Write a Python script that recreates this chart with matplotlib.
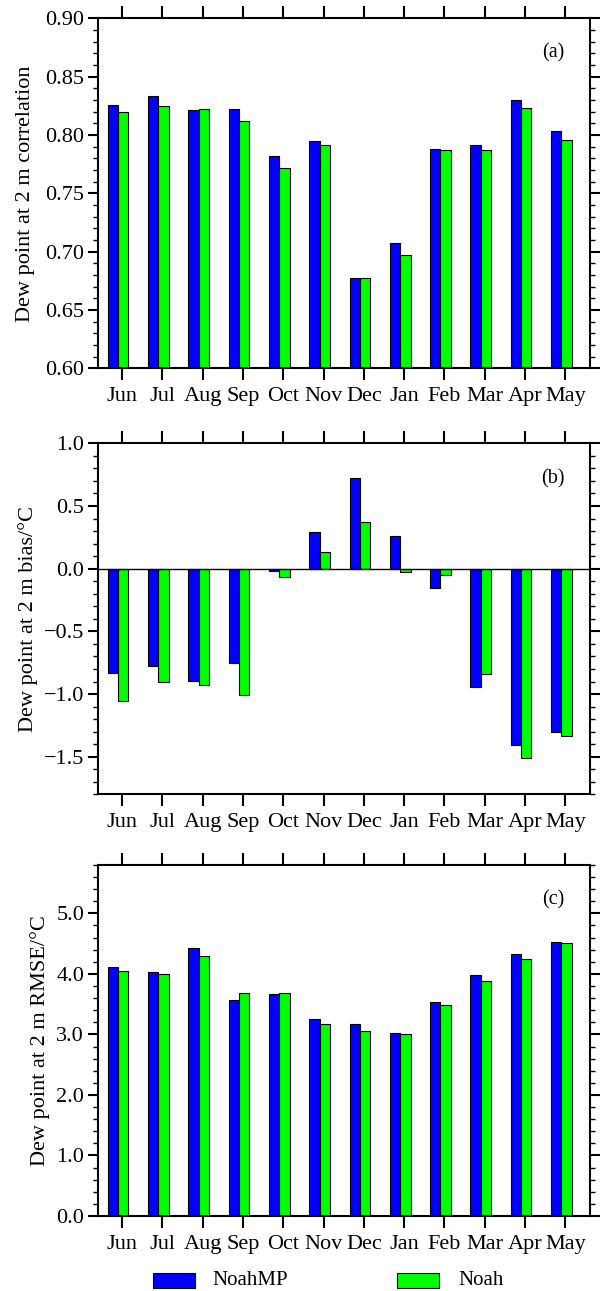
import numpy as np
import matplotlib.pyplot as plt
from matplotlib.patches import Rectangle
from matplotlib.ticker import MultipleLocator, FuncFormatter

months = ['Jun', 'Jul', 'Aug', 'Sep', 'Oct', 'Nov', 'Dec', 'Jan', 'Feb', 'Mar', 'Apr', 'May']

# (a) correlation
corr_noahmp = [0.826, 0.833, 0.821, 0.822, 0.782, 0.795, 0.677, 0.707, 0.788, 0.791, 0.830, 0.803]
corr_noah = [0.820, 0.825, 0.822, 0.812, 0.772, 0.791, 0.677, 0.697, 0.787, 0.787, 0.823, 0.796]

# (b) bias
bias_noahmp = [-0.835, -0.777, -0.896, -0.753, -0.021, 0.293, 0.721, 0.261, -0.154, -0.941, -1.404, -1.306]
bias_noah = [-1.059, -0.904, -0.931, -1.011, -0.066, 0.136, 0.375, -0.027, -0.050, -0.843, -1.513, -1.338]

# (c) RMSE
rmse_noahmp = [4.11, 4.03, 4.43, 3.57, 3.67, 3.25, 3.18, 3.02, 3.54, 3.98, 4.33, 4.53]
rmse_noah = [4.05, 4.00, 4.29, 3.68, 3.68, 3.17, 3.05, 3.00, 3.49, 3.89, 4.25, 4.51]

BLUE = '#0000ff'
GREEN = '#00ff00'
BAR_W = 0.256

plt.rcParams['font.family'] = ['Liberation Serif', 'DejaVu Serif']
plt.rcParams['font.size'] = 16


def tick_fmt(fmt):
    # proper minus sign on negative labels
    return FuncFormatter(lambda v, pos: (fmt % (0.0 if abs(v) < 1e-9 else v)).replace('-', '\u2212'))


def draw_panel(ax, mp, noah, ylim, major, minor, fmt, ylabel, label_x, tag, zero_line=False):
    x = np.arange(len(months))
    ax.bar(x - 0.355, mp, width=BAR_W, align='edge', color=BLUE, edgecolor='black', linewidth=0.8)
    ax.bar(x - 0.355 + BAR_W, noah, width=BAR_W, align='edge', color=GREEN, edgecolor='black', linewidth=0.8)
    if zero_line:
        ax.axhline(0, color='black', linewidth=1.0)
    ax.set_xlim(-0.59, 11.61)
    ax.set_ylim(*ylim)
    ax.set_xticks(x)
    ax.set_xticklabels(months)
    ax.yaxis.set_major_locator(MultipleLocator(major))
    ax.yaxis.set_minor_locator(MultipleLocator(minor))
    ax.yaxis.set_major_formatter(tick_fmt(fmt))
    ax.tick_params(axis='x', which='major', direction='out', length=8.6, width=1.5,
                   top=True, bottom=True, labeltop=False, pad=5)
    ax.tick_params(axis='y', which='major', direction='out', length=7.2, width=1.5,
                   left=True, right=True, labelright=False, pad=3)
    ax.tick_params(axis='y', which='minor', direction='out', length=3.6, width=1.0,
                   left=True, right=True)
    for s in ax.spines.values():
        s.set_linewidth(1.5)
    ax.set_ylabel(ylabel)
    ax.yaxis.set_label_coords(label_x, 0.5)
    ax.text(0.925, 0.90, tag, transform=ax.transAxes, ha='center', va='center', fontsize=14.5)


fig = plt.figure(figsize=(6.03, 12.91), dpi=100)
ax_a = fig.add_axes([0.163, 0.7147, 0.8154, 0.2711])
ax_b = fig.add_axes([0.163, 0.3847, 0.8154, 0.2719])
ax_c = fig.add_axes([0.163, 0.0581, 0.8154, 0.2719])

draw_panel(ax_a, corr_noahmp, corr_noah, (0.60, 0.90), 0.05, 0.01, '%.2f',
           'Dew point at 2 m correlation', -0.129, '(a)')
draw_panel(ax_b, bias_noahmp, bias_noah, (-1.8, 1.0), 0.5, 0.1, '%.1f',
           'Dew point at 2 m bias/\u00b0C', -0.123, '(b)', zero_line=True)
draw_panel(ax_c, rmse_noahmp, rmse_noah, (0.0, 5.8), 1.0, 0.2, '%.1f',
           'Dew point at 2 m RMSE/\u00b0C', -0.098, '(c)')

# legend boxes along the bottom
fig.patches.append(Rectangle((0.2537, 0.0023), 0.0697, 0.0116, transform=fig.transFigure,
                             facecolor=BLUE, edgecolor='black', linewidth=0.8))
fig.text(0.353, 0.0085, 'NoahMP', ha='left', va='center', fontsize=15)
fig.patches.append(Rectangle((0.658, 0.0023), 0.0697, 0.0116, transform=fig.transFigure,
                             facecolor=GREEN, edgecolor='black', linewidth=0.8))
fig.text(0.7595, 0.0085, 'Noah', ha='left', va='center', fontsize=15)

fig.savefig('out.png', dpi=100)
